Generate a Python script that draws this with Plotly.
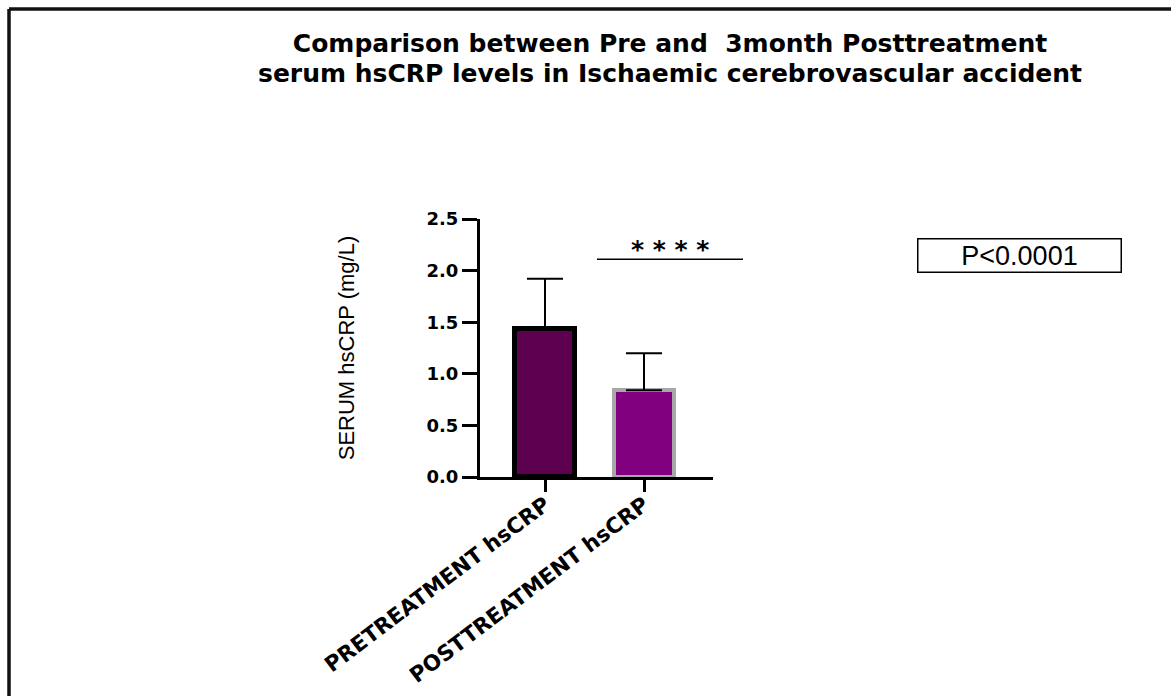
import plotly.graph_objects as go

# ---- data ----
categories = ["PRETREATMENT hsCRP", "POSTTREATMENT hsCRP"]
means = [1.43, 0.84]
sd_upper = [0.49, 0.36]
bar_colors = ["#5c004f", "#800080"]
line_colors = ["#000000", "#a8a8a8"]
line_widths = [5, 4]
y_ticks = [0.0, 0.5, 1.0, 1.5, 2.0, 2.5]
sig_span = [0.525, 2.0]
sig_level = 2.11
sig_text = "* * * *"
p_text = "P<0.0001"
title_lines = ["Comparison between Pre and  3month Posttreatment",
               "serum hsCRP levels in Ischaemic cerebrovascular accident"]
y_title = "SERUM hsCRP (mg/L)"

W, H = 1171, 696
L, R, T, B = 480, 713, 219, 477  # plot area in pixels
X_RANGE = [(L - 545) / 99, (R - 545) / 99]
Y_RANGE = [0, 2.5]


def px(x):
    return (x - L) / (R - L)


def py(y):
    return (B - y) / (B - T)


def dx(v):  # data x -> paper
    return (v - X_RANGE[0]) / (X_RANGE[1] - X_RANGE[0])


def dy(v):  # data y -> paper
    return (v - Y_RANGE[0]) / (Y_RANGE[1] - Y_RANGE[0])


xpos = list(range(len(categories)))

fig = go.Figure()
fig.add_trace(go.Bar(
    x=xpos, y=means, width=0.6,
    marker=dict(color=bar_colors, line=dict(color=line_colors, width=line_widths)),
    error_y=dict(type="data", symmetric=False, array=sd_upper,
                 arrayminus=[0] * len(means), color="black", thickness=2, width=18),
    hoverinfo="skip", showlegend=False,
))

title_html = "<br>".join(
    '<span style="font-size:25px"><b>' + t + "</b></span>" for t in title_lines
)

annotations = [
    dict(x=1.26, y=2.2, xref="x", yref="y", text="<b>" + sig_text + "</b>", showarrow=False,
         xanchor="center", yanchor="middle",
         font=dict(family="DejaVu Sans", size=25, color="black")),
    dict(x=px(1019), y=py(255), xref="paper", yref="paper", text=p_text,
         showarrow=False, width=200, height=30, borderpad=1,
         xanchor="center", yanchor="middle",
         bordercolor="black", borderwidth=1.5, bgcolor="white",
         font=dict(family="Liberation Sans, Arial", size=27, color="black")),
    dict(x=px(670), y=py(58.5), xref="paper", yref="paper", text=title_html,
         showarrow=False, xanchor="center", yanchor="middle", align="center",
         font=dict(family="DejaVu Sans", size=23, color="black")),
]

shapes = [
    dict(type="line", xref="paper", yref="paper", x0=px(9), x1=px(1180), y0=py(9), y1=py(9),
         line=dict(color="#111111", width=3.5)),
    dict(type="line", xref="paper", yref="paper", x0=px(9), x1=px(9), y0=py(9), y1=py(700),
         line=dict(color="#111111", width=3.5)),
    dict(type="line", xref="paper", yref="paper",
         x0=dx(sig_span[0]), x1=dx(sig_span[1]), y0=dy(sig_level), y1=dy(sig_level),
         line=dict(color="black", width=1.5)),
]

fig.update_layout(
    width=W, height=H,
    margin=dict(l=L, r=W - R, t=T, b=H - B, autoexpand=False),
    paper_bgcolor="white", plot_bgcolor="white",
    annotations=annotations, shapes=shapes,
    bargap=0,
)
fig.update_xaxes(
    range=X_RANGE,
    tickvals=xpos, ticktext=categories, tickangle=-37,
    showline=True, linecolor="black", linewidth=3,
    ticks="outside", ticklen=12, tickwidth=3, tickcolor="black",
    ticklabelstandoff=-8,
    showgrid=False, zeroline=False,
    tickfont=dict(family="DejaVu Sans", size=21.5, color="black", weight="bold"),
)
fig.update_yaxes(
    range=Y_RANGE, tickvals=y_ticks, tickformat=".1f",
    showline=True, linecolor="black", linewidth=3,
    ticks="outside", ticklen=15, tickwidth=3, tickcolor="black",
    showgrid=False, zeroline=False,
    tickfont=dict(family="DejaVu Sans", size=18, color="black", weight="bold"),
    title=dict(text=y_title, standoff=66,
               font=dict(family="Liberation Sans, Arial", size=22, color="black")),
)

fig.write_html("out.html")
